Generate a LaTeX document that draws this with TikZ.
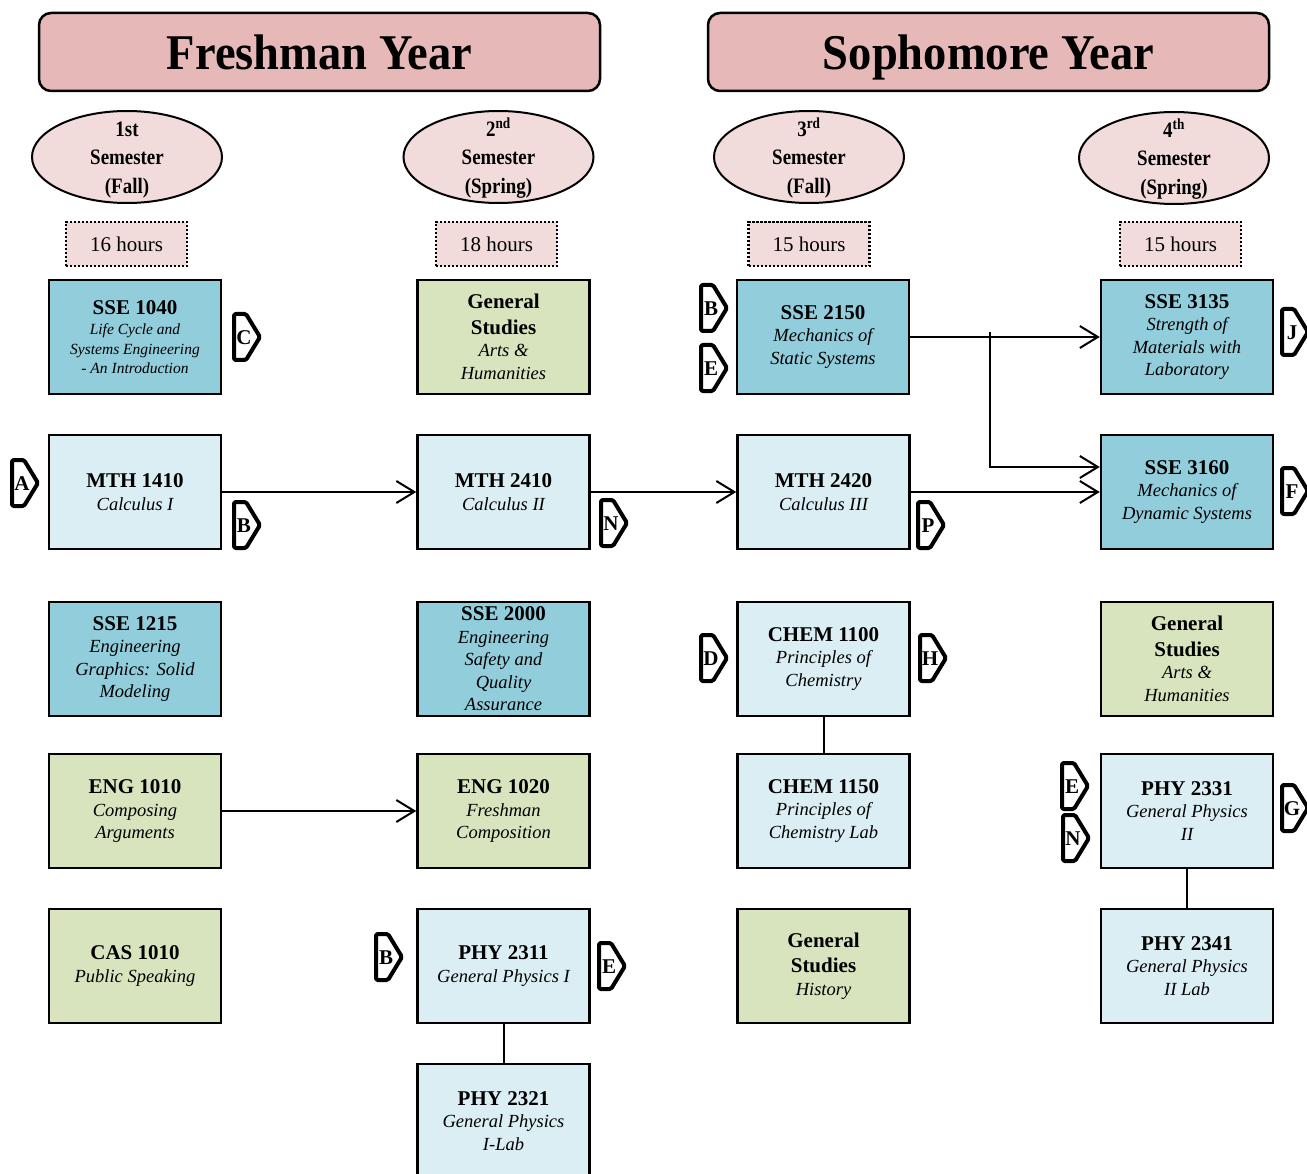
\documentclass[tikz,border=0pt]{standalone}
\usepackage{fontspec}
\setmainfont{Liberation Serif}
\newfontfamily\titlefont[FakeStretch=0.93]{Liberation Serif}
\newfontfamily\semfont[FakeStretch=0.86]{Liberation Serif}
\usetikzlibrary{arrows.meta,shapes.geometric}
\definecolor{cTitle}{HTML}{E6B8B7}
\definecolor{cPink}{HTML}{F2DCDB}
\definecolor{cSSE}{HTML}{92CDDC}
\definecolor{cLB}{HTML}{DAEEF3}
\definecolor{cGN}{HTML}{D7E4BD}
\newcommand\ccode[1]{{\upshape\bfseries\fontsize{21}{25}\selectfont #1}}
\newcommand\tagmark[4]{%
  \draw[tagline] (#2+2,#3+2) -- (#2+14,#3+2) -- (#2+28,#3+25) -- (#2+14,#3+48) -- (#2+2,#3+48) -- cycle;
  \node[tagtext] (#1) at (#2+12,#3+26) {#4};}
\begin{document}
\begin{tikzpicture}[x=1pt,y=-1pt,
  course/.style={draw, line width=2.5pt, minimum width=172pt, minimum height=114pt, inner sep=0pt, align=center, font=\itshape\fontsize{18.5}{22.5}\selectfont},
  sse/.style={course, fill=cSSE},
  lb/.style={course, fill=cLB},
  gn/.style={course, fill=cGN},
  yearbox/.style={draw, line width=2.5pt, fill=cTitle, rounded corners=12pt, minimum width=561pt, minimum height=78pt, inner sep=0pt},
  yeartext/.style={font=\titlefont\bfseries\fontsize{50}{60}\selectfont, anchor=base, inner sep=0pt},
  semell/.style={draw, ellipse, line width=2pt, fill=cPink, minimum width=190pt, minimum height=92pt, inner sep=0pt},
  semtext/.style={align=center, font=\semfont\bfseries\fontsize{22}{28.5}\selectfont, inner sep=0pt},
  hours/.style={draw, fill=cPink, line width=2.5pt, dash pattern=on 2.2pt off 1.8pt, minimum width=121pt, minimum height=44pt, inner sep=0pt, font=\fontsize{21}{25}\selectfont},
  link/.style={line width=2pt},
  flow/.style={line width=2pt, -{Straight Barb[length=18pt,width=22pt,line width=2pt]}},
  tagline/.style={draw, fill=white, line width=4pt, line join=round, rounded corners=1.5pt},
  tagtext/.style={font=\bfseries\fontsize{21}{25}\selectfont, inner sep=0pt},
]
\path[use as bounding box, fill=white] (0,0) rectangle (1307,1174);

% Year headers
\node[yearbox] (fy) at (319.5,52) {};
\node[yeartext] (fyt) at (319.5,70) {Freshman Year};
\node[yearbox] (sy) at (988.5,52) {};
\node[yeartext] (syt) at (988.5,70) {Sophomore Year};

% Semesters
\node[semell] (e1) at (127,157) {};
\node[semtext] (e1t) at (127,160) {1st\\Semester\\(Fall)};
\node[semell] (e2) at (498.5,157) {};
\node[semtext] (e2t) at (498.5,160) {2\smash{\textsuperscript{nd}}\\Semester\\(Spring)};
\node[semell] (e3) at (809,157) {};
\node[semtext] (e3t) at (809,160) {3\smash{\textsuperscript{rd}}\\Semester\\(Fall)};
\node[semell] (e4) at (1174,158) {};
\node[semtext] (e4t) at (1174,161) {4\smash{\textsuperscript{th}}\\Semester\\(Spring)};

% Hours
\node[hours] (h1) at (126.5,244) {16 hours};
\node[hours] (h2) at (496.5,244) {18 hours};
\node[hours] (h3) at (809,244) {15 hours};
\node[hours] (h4) at (1180.5,244) {15 hours};

% Column 1
\node[sse, font=\itshape\fontsize{15.5}{19.5}\selectfont] (sse1040) at (135,337) {\ccode{SSE 1040}\\[1pt]Life Cycle and\\Systems Engineering\\- An Introduction};
\node[lb] (mth1410) at (135,492) {\ccode{MTH 1410}\\Calculus I};
\node[sse] (sse1215) at (135,659) {\ccode{SSE 1215}\\Engineering\\Graphics: Solid\\Modeling};
\node[gn] (eng1010) at (135,811) {\ccode{ENG 1010}\\Composing\\Arguments};
\node[gn] (cas1010) at (135,966) {\ccode{CAS 1010}\\Public Speaking};

% Column 2
\node[gn] (gs2) at (503.5,337) {\ccode{General}\\[3pt]\ccode{Studies}\\Arts \&\\Humanities};
\node[lb] (mth2410) at (503.5,492) {\ccode{MTH 2410}\\Calculus II};
\node[sse] (sse2000) at (503.5,659) {\ccode{SSE 2000}\\Engineering\\Safety and\\Quality\\Assurance};
\node[gn] (eng1020) at (503.5,811) {\ccode{ENG 1020}\\Freshman\\Composition};
\node[lb] (phy2311) at (503.5,966) {\ccode{PHY 2311}\\General Physics I};
\node[lb] (phy2321) at (503.5,1121) {\ccode{PHY 2321}\\General Physics\\I-Lab};

% Column 3
\node[sse] (sse2150) at (823,337) {\ccode{SSE 2150}\\Mechanics of\\Static Systems};
\node[lb] (mth2420) at (823.5,492) {\ccode{MTH 2420}\\Calculus III};
\node[lb] (chem1100) at (823.5,659) {\ccode{CHEM 1100}\\Principles of\\Chemistry};
\node[lb] (chem1150) at (823.5,811) {\ccode{CHEM 1150}\\Principles of\\Chemistry Lab};
\node[gn] (gs3) at (823.5,966) {\ccode{General}\\[3pt]\ccode{Studies}\\History};

% Column 4
\node[sse] (sse3135) at (1187,337) {\ccode{SSE 3135}\\Strength of\\Materials with\\Laboratory};
\node[sse] (sse3160) at (1187,492) {\ccode{SSE 3160}\\Mechanics of\\Dynamic Systems};
\node[gn] (gs4) at (1187,659) {\ccode{General}\\[3pt]\ccode{Studies}\\Arts \&\\Humanities};
\node[lb] (phy2331) at (1187,811) {\ccode{PHY 2331}\\General Physics\\II};
\node[lb] (phy2341) at (1187,966) {\ccode{PHY 2341}\\General Physics\\II Lab};

% Connectors
\draw[flow] (mth1410.east) -- (mth2410.west);
\draw[flow] (mth2410.east) -- (mth2420.west);
\draw[flow] (mth2420.east) -- (sse3160.west);
\draw[flow] (eng1010.east) -- (eng1020.west);
\draw[flow] (sse2150.east) -- (sse3135.west);
\coordinate (brtop) at (990,332);
\draw[flow] (brtop) |- ([yshift=25pt]sse3160.west);
\draw[link] (chem1100.south) -- (chem1150.north);
\draw[link] (phy2311.south) -- (phy2321.north);
\draw[link] (phy2331.south) -- (phy2341.north);

% Tags
\tagmark{tagC}{232}{312}{C}
\tagmark{tagA}{10}{458}{A}
\tagmark{tagBa}{232}{500}{B}
\tagmark{tagNa}{599}{498}{N}
\tagmark{tagBb}{699}{283}{B}
\tagmark{tagEa}{699}{343}{E}
\tagmark{tagP}{916}{500}{P}
\tagmark{tagJ}{1280}{307}{J}
\tagmark{tagF}{1280}{466}{F}
\tagmark{tagD}{699}{633}{D}
\tagmark{tagH}{918}{633}{H}
\tagmark{tagEb}{1060}{761}{E}
\tagmark{tagNb}{1061}{813}{N}
\tagmark{tagG}{1280}{783}{G}
\tagmark{tagBc}{374}{932}{B}
\tagmark{tagEc}{597}{941}{E}
\end{tikzpicture}
\end{document}
